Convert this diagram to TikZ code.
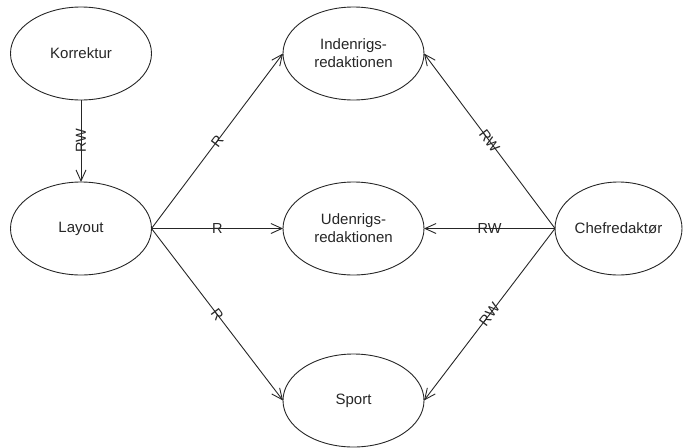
\documentclass[tikz,border=0pt]{standalone}
\usepackage{fontspec}
\setmainfont{Liberation Sans}
\usetikzlibrary{shapes.geometric,arrows.meta}
\begin{document}
\begin{tikzpicture}[x=1pt,y=-1pt,
  every node/.style={text=black!85},
  entity/.style={ellipse,draw=black!85,line width=0.9pt,minimum width=141pt,minimum height=93pt,
    inner sep=0pt,outer sep=0pt,align=center,font=\fontsize{15}{18}\selectfont},
  flow/.style={draw=black!85,line width=0.9pt,-{Straight Barb[length=11pt,width=10pt]}},
  tag/.style={font=\fontsize{14.5}{16}\selectfont,inner sep=0pt}]
\useasboundingbox (0,0) rectangle (684,447);
\node[entity] (kor) at (81,53.5) {Korrektur};
\node[entity] (lay) at (81,228.5) {Layout};
\node[entity] (ind) at (353.5,53.5) {Indenrigs-\\redaktionen};
\node[entity] (ude) at (353.5,228.5) {Udenrigs-\\redaktionen};
\node[entity] (spo) at (353.5,400.5) {Sport};
\node[entity,minimum width=127pt] (chf) at (618.5,228.5) {Chefredaktør};
% read/write access
\draw[flow] (kor.south) -- node[tag,midway,rotate=90] {RW} (lay.north);
\draw[flow] (lay.east) -- node[tag,midway,sloped] {R} (ind.west);
\draw[flow] (lay.east) -- node[tag,midway,sloped] {R} (ude.west);
\draw[flow] (lay.east) -- node[tag,midway,sloped] {R} (spo.west);
\draw[flow] (chf.west) -- node[tag,midway,sloped] {RW} (ind.east);
\draw[flow] (chf.west) -- node[tag,midway,sloped] {RW} (ude.east);
\draw[flow] (chf.west) -- node[tag,midway,sloped] {RW} (spo.east);
\end{tikzpicture}
\end{document}
